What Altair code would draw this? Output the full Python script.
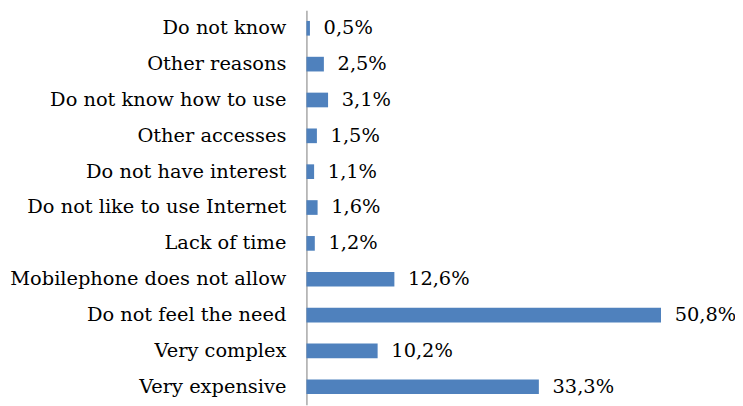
import altair as alt
import pandas as pd

categories = [
    "Do not know",
    "Other reasons",
    "Do not know how to use",
    "Other accesses ",
    "Do not have interest",
    "Do not like to use Internet",
    "Lack of time",
    "Mobilephone does not allow",
    "Do not feel the need",
    "Very complex",
    "Very expensive",
]
values = [0.5, 2.5, 3.1, 1.5, 1.1, 1.6, 1.2, 12.6, 50.8, 10.2, 33.3]
labels = [f"{v:.1f}".replace(".", ",") + "%" for v in values]

df = pd.DataFrame({"category": categories, "value": values, "label": labels})

FONT = "DejaVu Serif"

base = alt.Chart(df).encode(
    y=alt.Y(
        "category:N",
        sort=categories,
        scale=alt.Scale(paddingInner=0, paddingOuter=0),
        axis=alt.Axis(
            title=None,
            ticks=False,
            domainColor="#A6A6A6",
            domainWidth=1.5,
            labelFont=FONT,
            labelFontSize=19.8,
            labelColor="#000000",
            labelPadding=21,
            labelLimit=400,
        ),
    ),
    x=alt.X("value:Q", scale=alt.Scale(domain=[0, 60], nice=False), axis=None),
)

bars = base.mark_bar(color="#4F81BD", size=15)
text = base.mark_text(
    align="left", baseline="middle", dx=14, font=FONT, fontSize=19.8, color="#000000"
).encode(text="label:N")

chart = (
    (bars + text)
    .properties(
        width=428,
        height=403,
        background="#FFFFFF",
        autosize=alt.AutoSizeParams(type="none"),
        padding={"left": 305, "top": -2, "right": 10, "bottom": 0},
    )
    .configure_view(stroke=None, strokeWidth=0)
)

chart.save("out.html", embed_options={"renderer": "svg", "actions": False})
